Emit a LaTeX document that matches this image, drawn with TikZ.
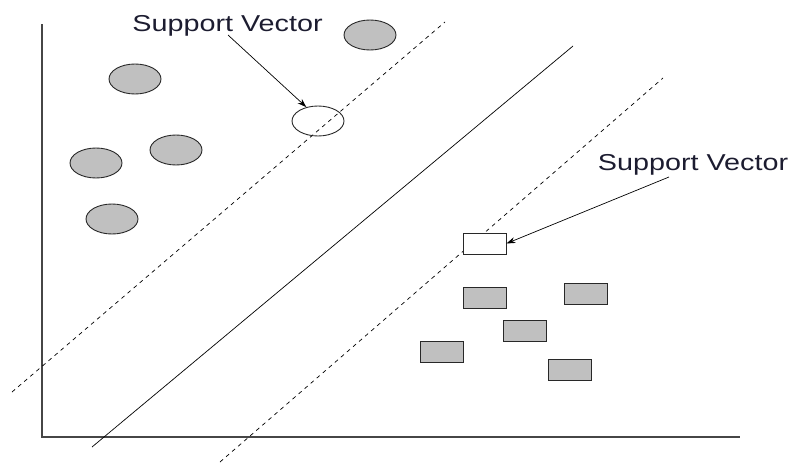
\documentclass[tikz,border=0pt]{standalone}
\usepackage{fontspec}
\usetikzlibrary{shapes.geometric,arrows.meta}
\newfontfamily\lblfont[FakeStretch=1.25]{Liberation Sans}
\definecolor{ptfill}{RGB}{192,192,192}
\definecolor{edge}{RGB}{40,40,40}
\definecolor{axisc}{RGB}{70,70,70}
\definecolor{txt}{RGB}{28,28,48}
\tikzset{
  circpt/.style={ellipse, draw=edge, line width=0.9pt, fill=ptfill, minimum width=52pt, minimum height=30pt, inner sep=0pt},
  circsv/.style={ellipse, draw=edge, line width=0.9pt, minimum width=52pt, minimum height=30pt, inner sep=0pt},
  rectpt/.style={rectangle, draw=edge, line width=0.9pt, fill=ptfill, minimum width=43pt, minimum height=21pt, inner sep=0pt},
  rectsv/.style={rectpt, fill=white},
  margin/.style={line width=0.7pt, dash pattern=on 4pt off 4pt},
  hyper/.style={line width=0.7pt},
  axisline/.style={draw=axisc, line width=1.3pt},
  lbl/.style={font=\lblfont\fontsize{23}{27}\selectfont, text=txt, inner sep=0pt, anchor=base},
  pointer/.style={line width=0.7pt, -{Stealth[length=9pt,width=6pt]}}
}
\begin{document}
\begin{tikzpicture}[x=1pt,y=-1pt]
\useasboundingbox (0,0) rectangle (792,463);
% axes
\coordinate (ytop) at (42,24);
\coordinate (orig) at (42,437);
\coordinate (xend) at (740,437);
\draw[axisline] (ytop) -- (orig) -- (xend);
% lines
\coordinate (h1) at (92,447);
\coordinate (h2) at (573,46);
\draw[hyper] (h1) -- (h2);
\coordinate (m1a) at (12,392);
\coordinate (m1b) at (445,22);
\draw[margin] (m1a) -- (m1b);
\coordinate (m2a) at (220,462);
\coordinate (m2b) at (663,78);
\draw[margin] (m2a) -- (m2b);
% circles
\node[circpt] (c1) at (370,35) {};
\node[circpt] (c2) at (135,79) {};
\node[circpt] (c3) at (176,150) {};
\node[circpt] (c4) at (96,163) {};
\node[circpt] (c5) at (112,219) {};
\node[circsv] (csv) at (318,121) {};
% rectangles
\node[rectsv] (rsv) at (484.5,243.5) {};
\node[rectpt] (r1) at (484.5,298) {};
\node[rectpt] (r2) at (585.5,293.5) {};
\node[rectpt] (r3) at (524.5,330.5) {};
\node[rectpt] (r4) at (442,351.5) {};
\node[rectpt] (r5) at (570,369.5) {};
% labels
\node[lbl] (l1) at (227.5,31) {Support Vector};
\node[lbl] (l2) at (693,170) {Support Vector};
\coordinate (a1s) at (228,35);
\coordinate (a2s) at (669,177);
\draw[pointer] (a1s) -- (csv.130);
\draw[pointer] (a2s) -- (rsv.east);
\end{tikzpicture}
\end{document}
